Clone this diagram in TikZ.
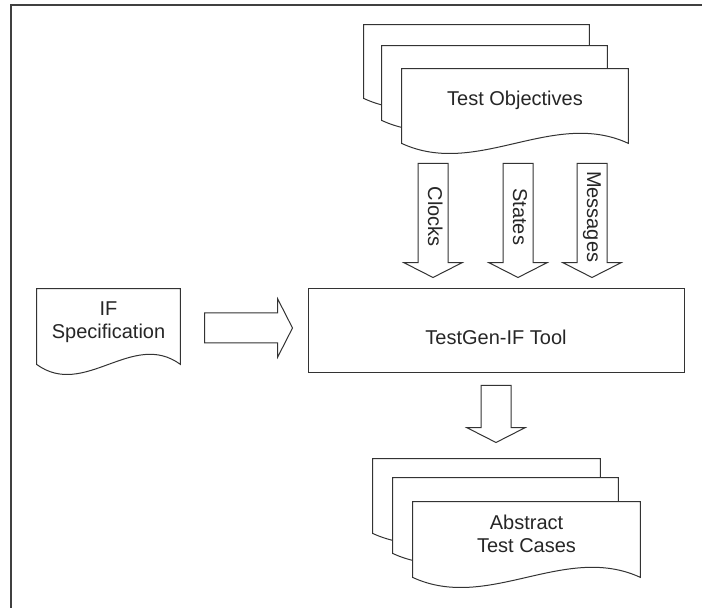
\documentclass[tikz,border=0pt]{standalone}
\usepackage{fontspec}
\setmainfont{Liberation Sans}
\usetikzlibrary{shapes.arrows,calc}

\pgfdeclarelayer{background}
\pgfsetlayers{background,main}

\tikzset{
  docbox/.style={draw=none, inner sep=0pt, align=center, text=black!85},
  docline/.style={draw=black!80, line width=0.5pt, fill=white},
  toolbox/.style={draw=black!80, line width=0.5pt, text=black!85, inner sep=0pt},
  blockarrow/.style={single arrow, draw=black!80, line width=0.5pt, fill=white,
    text=black!85, text height=7.25pt, text depth=2.25pt, inner ysep=2.5pt,
    inner xsep=1pt, single arrow head extend=7pt, single arrow tip angle=126},
  frameline/.style={draw=black!75, line width=0.7pt}
}

% outline of a document sheet with a wavy lower edge
\newcommand{\docpath}[2][6pt]{%
  \coordinate (#2-se) at ([yshift=-#1]#2.south east);
  \coordinate (#2-sw) at ([yshift=-#1]#2.south west);
  \filldraw[docline] (#2.north west) -- (#2.north east) -- (#2-se)
    .. controls ($(#2-se)!0.333!(#2-sw)+(0,17.5pt)$) and ($(#2-se)!0.667!(#2-sw)+(0,-17.5pt)$)
    .. (#2-sw) -- cycle;}

\begin{document}
\begin{tikzpicture}[x=0.5pt, y=-0.5pt, font=\fontsize{10}{11.5}\selectfont]

\useasboundingbox (0,0) rectangle (702,608);

\draw[frameline] (11,608) -- (11,5) -- (702,5);

% test objectives
\node[docbox, minimum width=112.5pt, minimum height=30.5pt] (objback) at (476.5,55.5) {};
\node[docbox, minimum width=112.5pt, minimum height=31pt] (objmid) at (494.5,77) {};
\node[docbox, minimum width=113pt, minimum height=31pt] (objfront) at (515,100) {Test Objectives};

% specification
\node[docbox, minimum width=71.5pt, minimum height=33pt] (spec) at (108.5,322) {IF\\Specification};

% tool
\node[toolbox, minimum width=188pt, minimum height=42pt, text height=13.5pt, text depth=0pt] (tool) at (496,331) {TestGen-IF Tool};

% test cases
\node[docbox, minimum width=113.5pt, minimum height=31pt] (casesback) at (486.5,490) {};
\node[docbox, minimum width=112.5pt, minimum height=31.5pt] (casesmid) at (505.5,509.5) {};
\node[docbox, minimum width=113.5pt, minimum height=31.5pt] (casesfront) at (526.5,533.5) {Abstract\\Test Cases};

\begin{pgfonlayer}{background}
\docpath{objback}
\docpath{objmid}
\docpath{objfront}
\docpath[4.5pt]{spec}
\docpath{casesback}
\docpath{casesmid}
\docpath{casesfront}
\end{pgfonlayer}

% block arrows
\node[blockarrow, rotate=-90, anchor=tail, minimum height=57pt] (clocks) at (433,163) {Clocks};
\node[blockarrow, rotate=-90, anchor=tail, minimum height=57pt] (states) at (518,163) {States};
\node[blockarrow, rotate=-90, anchor=tail, minimum height=57pt] (messages) at (592,163) {Messages};
\node[blockarrow, anchor=tail, minimum height=44pt] (feed) at (204,328) {};
\node[blockarrow, rotate=-90, anchor=tail, minimum height=28.5pt] (result) at (496,385) {};

\end{tikzpicture}
\end{document}
